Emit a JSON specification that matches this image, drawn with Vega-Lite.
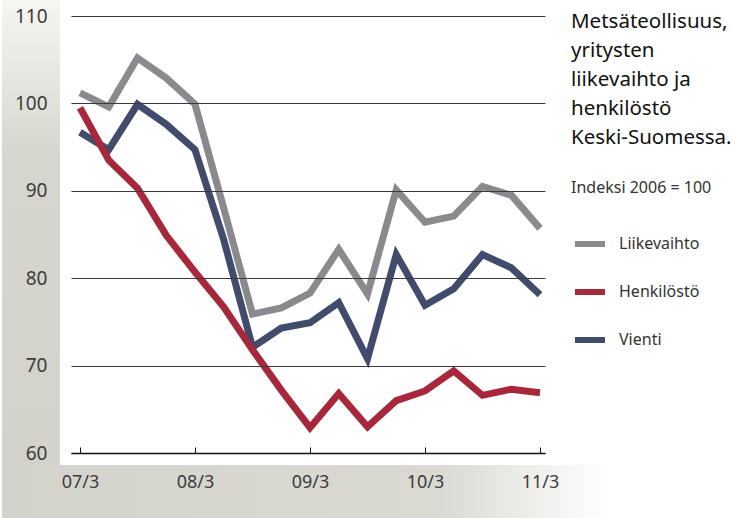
{
  "$schema": "https://vega.github.io/schema/vega-lite/v6.json",
  "width": 474,
  "height": 437,
  "autosize": "none",
  "padding": {"left": 71, "top": 16, "right": 188, "bottom": 65},
  "background": "white",
  "config": {"view": {"stroke": null}, "font": "Noto Sans"},
  "title": {
    "text": ["Metsäteollisuus,", "yritysten", "liikevaihto ja", "henkilöstö", "Keski-Suomessa."],
    "subtitle": "Indeksi 2006 = 100",
    "anchor": "start",
    "frame": "group",
    "orient": "top",
    "offset": 0,
    "dx": 500,
    "dy": 196,
    "font": "Noto Sans",
    "fontSize": 20.5,
    "fontWeight": "normal",
    "lineHeight": 29,
    "color": "#111111",
    "subtitleFont": "Noto Sans",
    "subtitleFontSize": 16,
    "subtitleColor": "#333333",
    "subtitlePadding": 32
  },
  "datasets": {
    "one": [{}],
    "series": [
      {"t": 0, "s": "Liikevaihto", "v": 101.2},
      {"t": 1, "s": "Liikevaihto", "v": 99.6},
      {"t": 2, "s": "Liikevaihto", "v": 105.2},
      {"t": 3, "s": "Liikevaihto", "v": 102.9},
      {"t": 4, "s": "Liikevaihto", "v": 99.9},
      {"t": 5, "s": "Liikevaihto", "v": 88.0},
      {"t": 6, "s": "Liikevaihto", "v": 75.9},
      {"t": 7, "s": "Liikevaihto", "v": 76.6},
      {"t": 8, "s": "Liikevaihto", "v": 78.3},
      {"t": 9, "s": "Liikevaihto", "v": 83.3},
      {"t": 10, "s": "Liikevaihto", "v": 78.2},
      {"t": 11, "s": "Liikevaihto", "v": 90.1},
      {"t": 12, "s": "Liikevaihto", "v": 86.4},
      {"t": 13, "s": "Liikevaihto", "v": 87.1},
      {"t": 14, "s": "Liikevaihto", "v": 90.5},
      {"t": 15, "s": "Liikevaihto", "v": 89.5},
      {"t": 16, "s": "Liikevaihto", "v": 85.7},
      {"t": 0, "s": "Vienti", "v": 96.7},
      {"t": 1, "s": "Vienti", "v": 94.7},
      {"t": 2, "s": "Vienti", "v": 99.9},
      {"t": 3, "s": "Vienti", "v": 97.6},
      {"t": 4, "s": "Vienti", "v": 94.7},
      {"t": 5, "s": "Vienti", "v": 84.4},
      {"t": 6, "s": "Vienti", "v": 72.1},
      {"t": 7, "s": "Vienti", "v": 74.3},
      {"t": 8, "s": "Vienti", "v": 74.9},
      {"t": 9, "s": "Vienti", "v": 77.2},
      {"t": 10, "s": "Vienti", "v": 70.8},
      {"t": 11, "s": "Vienti", "v": 82.7},
      {"t": 12, "s": "Vienti", "v": 76.9},
      {"t": 13, "s": "Vienti", "v": 78.8},
      {"t": 14, "s": "Vienti", "v": 82.7},
      {"t": 15, "s": "Vienti", "v": 81.2},
      {"t": 16, "s": "Vienti", "v": 78.1},
      {"t": 0, "s": "Henkilöstö", "v": 99.5},
      {"t": 1, "s": "Henkilöstö", "v": 93.5},
      {"t": 2, "s": "Henkilöstö", "v": 90.3},
      {"t": 3, "s": "Henkilöstö", "v": 84.9},
      {"t": 4, "s": "Henkilöstö", "v": 80.7},
      {"t": 5, "s": "Henkilöstö", "v": 76.7},
      {"t": 6, "s": "Henkilöstö", "v": 71.8},
      {"t": 7, "s": "Henkilöstö", "v": 67.2},
      {"t": 8, "s": "Henkilöstö", "v": 62.9},
      {"t": 9, "s": "Henkilöstö", "v": 66.8},
      {"t": 10, "s": "Henkilöstö", "v": 63.0},
      {"t": 11, "s": "Henkilöstö", "v": 66.0},
      {"t": 12, "s": "Henkilöstö", "v": 67.1},
      {"t": 13, "s": "Henkilöstö", "v": 69.4},
      {"t": 14, "s": "Henkilöstö", "v": 66.6},
      {"t": 15, "s": "Henkilöstö", "v": 67.3},
      {"t": 16, "s": "Henkilöstö", "v": 66.9}
    ]
  },
  "layer": [
    {
      "data": {"name": "one"},
      "mark": {"type": "rect", "color": {"gradient": "linear", "x1": 0, "y1": 0, "x2": 0, "y2": 1, "stops": [{"offset": 0, "color": "#f6f6f2"}, {"offset": 0.33, "color": "#d7d6ce"}, {"offset": 1, "color": "#d4d3cb"}]}},
      "encoding": {
        "x": {"datum": -2.713, "type": "quantitative"},
        "x2": {"datum": -0.696},
        "y": {"datum": 111.83, "type": "quantitative"},
        "y2": {"datum": 58.63}
      }
    },
    {
      "data": {"name": "one"},
      "mark": {"type": "rect", "color": {"gradient": "linear", "x1": 0, "y1": 0, "x2": 1, "y2": 0, "stops": [{"offset": 0, "color": "#d4d3cb"}, {"offset": 0.6, "color": "#dadad3"}, {"offset": 0.83, "color": "#ffffff"}, {"offset": 1, "color": "#ffffff"}]}},
      "encoding": {
        "x": {"datum": -2.713, "type": "quantitative"},
        "x2": {"datum": 22.71},
        "y": {"datum": 58.63, "type": "quantitative"},
        "y2": {"datum": 52.56}
      }
    },
    {
      "data": {"name": "series"},
      "mark": {"type": "line", "strokeWidth": 7, "strokeJoin": "miter", "strokeCap": "butt"},
      "encoding": {
        "x": {
          "field": "t", "type": "quantitative",
          "scale": {"domain": [-0.313, 16.174], "nice": false, "zero": false},
          "axis": {
            "values": [0, 4, 8, 12, 16],
            "labelExpr": "['07/3','08/3','09/3','10/3','11/3'][round(datum.value/4)]",
            "title": null, "grid": false,
            "domainColor": "#111111", "domainWidth": 1.5,
            "tickColor": "#111111", "tickSize": -6, "tickWidth": 1,
            "labelFontSize": 18, "labelColor": "#3c3c3c", "labelPadding": 26,
            "labelFont": "Noto Sans", "zindex": 1
          }
        },
        "y": {
          "field": "v", "type": "quantitative",
          "scale": {"domain": [60, 110], "nice": false, "zero": false},
          "axis": {
            "values": [60, 70, 80, 90, 100, 110],
            "title": null, "domain": false, "ticks": false, "grid": true,
            "gridColor": "#3a3a3a", "gridWidth": 1.2,
            "labelFontSize": 19, "labelColor": "#3c3c3c", "labelPadding": 24,
            "labelFont": "Noto Sans", "zindex": 1
          }
        },
        "color": {
          "field": "s", "type": "nominal",
          "scale": {"domain": ["Liikevaihto", "Henkilöstö", "Vienti"], "range": ["#898a8d", "#a8283b", "#414b6c"]},
          "legend": {
            "title": null, "orient": "none", "legendX": 501, "legendY": 210,
            "symbolType": "stroke", "symbolSize": 900, "symbolStrokeWidth": 6,
            "labelFontSize": 16, "labelColor": "#333333", "labelFont": "Noto Sans",
            "labelOffset": 11, "rowPadding": 18
          }
        }
      }
    }
  ]
}
